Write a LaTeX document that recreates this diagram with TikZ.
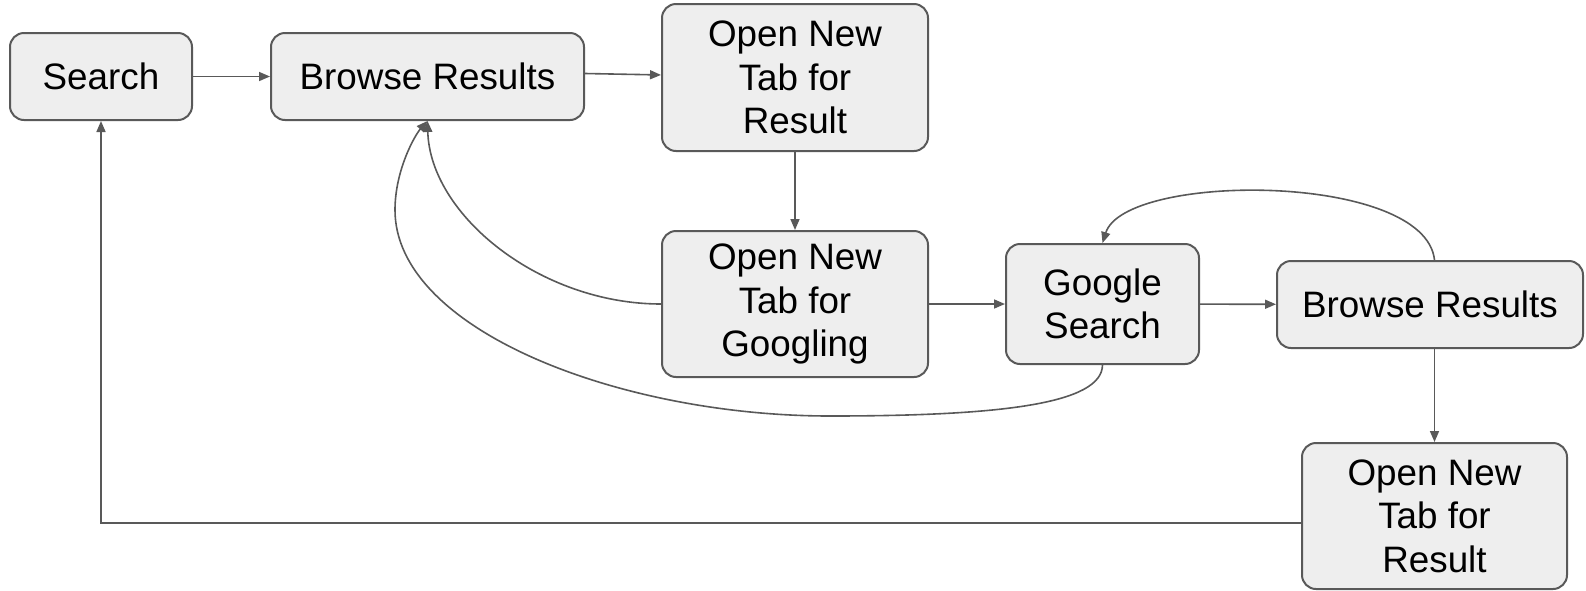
\documentclass[tikz,border=0pt]{standalone}
\usepackage{fontspec}
\setmainfont{Liberation Sans}
\usetikzlibrary{arrows.meta}
\definecolor{boxfill}{HTML}{EEEEEE}
\definecolor{linec}{HTML}{595959}
\begin{document}
\begin{tikzpicture}[x=0.5pt,y=-0.5pt,
  box/.style={draw=linec, fill=boxfill, rounded corners=7pt, line width=1pt,
    align=center, inner sep=0pt, font=\fontsize{18.4}{21.75}\selectfont},
  conn/.style={draw=linec, line width=0.8pt, -{Triangle[length=5.5pt,width=4.5pt]}}]
\useasboundingbox (0,0) rectangle (1586,590);
\node[box, minimum width=91pt, minimum height=43.5pt] (search) at (101,76.5) {Search};
\node[box, minimum width=156.5pt, minimum height=43.5pt] (br1) at (427.5,76.5) {Browse Results};
\node[box, minimum width=133pt, minimum height=73.5pt] (open1) at (795,77.5) {Open New\\Tab for\\Result};
\node[box, minimum width=133pt, minimum height=73pt] (goog) at (795,304) {Open New\\Tab for\\Googling};
\node[box, minimum width=96.5pt, minimum height=60pt] (gs) at (1102.5,304) {Google\\Search};
\node[box, minimum width=153pt, minimum height=43.5pt] (br2) at (1430,304.5) {Browse Results};
\node[box, minimum width=132.5pt, minimum height=73pt] (open2) at (1434.5,516) {Open New\\Tab for\\Result};

\draw[conn] (search) -- (br1);
\draw[conn] ([yshift=1.5pt]br1.east) -- (open1);
\draw[conn] (open1) -- (goog);
\draw[conn] (goog) -- (gs);
\draw[conn] (gs) -- (br2);
\draw[conn] (open2.north |- br2.south) -- (open2.north);
\draw[conn] ([yshift=-3.5pt]open2.west) -| (search.south);
\draw[conn] (goog.west) .. controls (540,304) and (430,215) .. (br1.south);
\draw[conn] (gs.south) .. controls (1102,404) and (1000,416) .. (830,416)
  .. controls (620,416) and (395,330) .. (395,210)
  .. controls (395,170) and (415,135) .. (br1.south);
\draw[conn] (open2.north |- br2.north) .. controls (1425,172) and (1125,172) .. (gs.north);
\end{tikzpicture}
\end{document}
